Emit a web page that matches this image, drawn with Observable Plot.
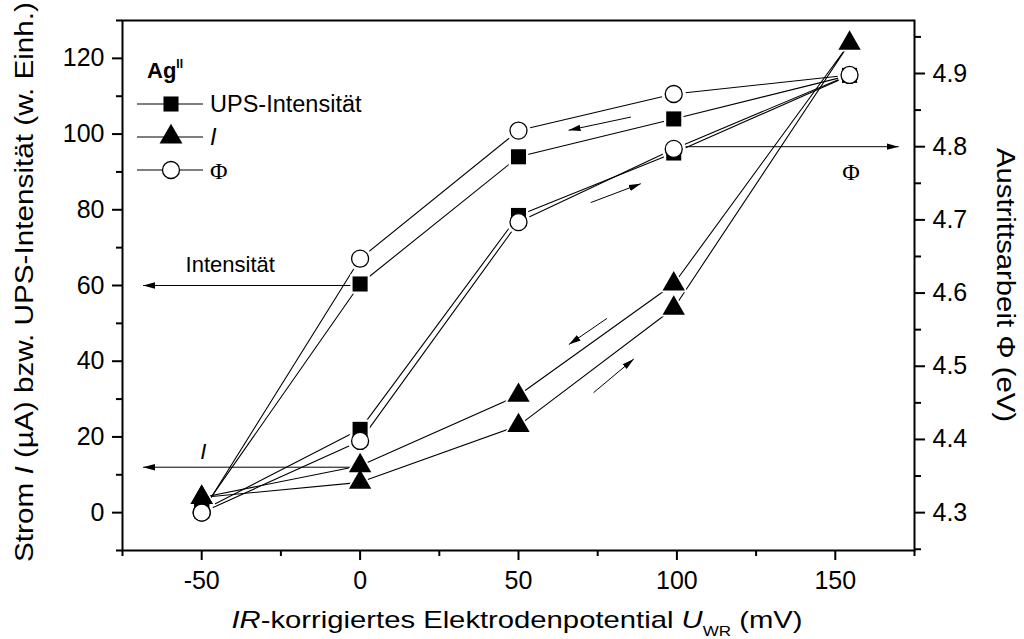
<!DOCTYPE html>
<html><head><meta charset="utf-8">
<script src="https://cdn.jsdelivr.net/npm/d3@7"></script>
<script src="https://cdn.jsdelivr.net/npm/@observablehq/plot@0.6"></script>
<style>
body{margin:0;background:#fff}
svg{font-family:"Liberation Sans",Arial,sans-serif}
</style>
</head><body><div id="chart"></div>
<script>
// ---- data (loop: forward sweep, then return sweep) ----
const potential    = [-50, 0, 50, 99, 154.5, 99, 50, 0, -50];
const upsIntensity = [0.5, 22, 78.5, 95, 115.5, 104, 94, 60.4, 0.5];
const current      = [4, 8, 23, 54, 124, 60.4, 31, 12.4, 4];
const workFunction = [4.30, 4.398, 4.697, 4.797, 4.898, 4.872, 4.822, 4.647, 4.30];

const xTicks = [-50, 0, 50, 100, 150];
const xMinor = [-75, -25, 25, 75, 125, 175];
const yTicks = [0, 20, 40, 60, 80, 100, 120];
const yMinor = [-10, 10, 30, 50, 70, 90, 110, 130];
const phiTicks = [4.3, 4.4, 4.5, 4.6, 4.7, 4.8, 4.9];
const phiMinor = [4.25, 4.35, 4.45, 4.55, 4.65, 4.75, 4.85, 4.95];

// annotation arrows (data units, left axis; phi: right axis)
const labelArrows = [
  {x1: -2, y1: 60, x2: -68.5, y2: 60},
  {x1: -2, y1: 12, x2: -68.5, y2: 12},
  {x1: 100, y1: 4.8, x2: 170, y2: 4.8, phi: true}
];
const dirArrows = [
  {x1: 85.5, y1: 104.5, x2: 65.8, y2: 101},
  {x1: 72.8, y1: 81.9, x2: 88.6, y2: 86.9},
  {x1: 77.9, y1: 51.3, x2: 65.9, y2: 44.4},
  {x1: 73.7, y1: 31.7, x2: 86.4, y2: 40.6}
];

// map Φ (right axis) onto left axis units
const phiToY = d3.scaleLinear().domain([4.3, 4.9]).range([0, 116]);

const upsRows = potential.map((x, i) => ({x, y: upsIntensity[i], s: "UPS"}));
const curRows = potential.map((x, i) => ({x, y: current[i], s: "I"}));
const phiRows = potential.map((x, i) => ({x, y: phiToY(workFunction[i]), s: "Phi"}));
const allRows = [...upsRows, ...curRows, ...phiRows];

const arrowsData = [...labelArrows.map(d => d.phi ? {...d, y1: phiToY(d.y1), y2: phiToY(d.y2)} : d), ...dirArrows];

const fs = 25;
const fmt = d => String(d).replace("\u2212", "-");
const plot = Plot.plot({
  width: 1024, height: 639,
  marginLeft: 122, marginRight: 110, marginTop: 20, marginBottom: 89,
  style: {background: "white", color: "black", fontFamily: "'Liberation Sans', Arial, sans-serif", fontSize: fs + "px"},
  x: {domain: [-75, 175]},
  y: {domain: [-10, 130]},
  marks: [
    Plot.axisX(xTicks, {tickSize: 10, tickPadding: 11, fontSize: fs, strokeWidth: 2, label: null, tickFormat: d => String(d)}),
    Plot.axisX(xMinor, {tickSize: 6, tickFormat: () => "", strokeWidth: 2, label: null}),
    Plot.axisY(yTicks, {anchor: "left", tickSize: 10, tickPadding: 8, fontSize: fs, strokeWidth: 2, label: null, tickFormat: d => String(d)}),
    Plot.axisY(yMinor, {anchor: "left", tickSize: 6, tickFormat: () => "", strokeWidth: 2, label: null}),
    Plot.axisY(phiTicks.map(phiToY), {anchor: "right", tickSize: 10, tickPadding: 8, fontSize: fs, strokeWidth: 2, label: null,
      tickFormat: d => phiToY.invert(d).toFixed(1)}),
    Plot.axisY(phiMinor.map(phiToY), {anchor: "right", tickSize: 6, tickFormat: () => "", strokeWidth: 2, label: null}),
    Plot.line(allRows, {x: "x", y: "y", z: "s", stroke: "black", strokeWidth: 1.1}),
    Plot.link(arrowsData, {x1: "x1", y1: "y1", x2: "x2", y2: "y2", stroke: "black", strokeWidth: 1}),
    // white halos so lines stop short of symbols
    Plot.dot(upsRows, {x: "x", y: "y", symbol: "square", r: 11, fill: "white"}),
    Plot.dot(curRows, {x: "x", y: "y", symbol: "triangle", r: 10.5, fill: "white"}),
    Plot.dot(phiRows, {x: "x", y: "y", r: 12, fill: "white"}),
    Plot.dot(upsRows, {x: "x", y: "y", symbol: "square", r: 8.5, fill: "black"}),
    Plot.dot(curRows, {x: "x", y: "y", symbol: "triangle", r: 8.3, fill: "black"}),
    Plot.dot(phiRows, {x: "x", y: "y", r: 8.5, fill: "white", stroke: "black", strokeWidth: 1.3}),
    Plot.text(["Intensität"], {x: -41, y: 65.5, fontSize: 22}),
    Plot.text(["I"], {x: -49.5, y: 16, fontSize: 22, fontStyle: "italic"}),
    Plot.text(["Φ"], {x: 155, y: 90, fontSize: 24, fontFamily: "'Liberation Serif', 'Times New Roman', serif"}),
    Plot.frame({stroke: "black", strokeWidth: 2})
  ]
});

const svg = d3.select(plot);

// filled arrowheads on annotation links
const defs = svg.append("defs");
defs.append("marker").attr("id", "ahead").attr("viewBox", "0 -5 12 10").attr("refX", 12).attr("refY", 0)
  .attr("markerUnits", "userSpaceOnUse").attr("markerWidth", 12).attr("markerHeight", 10).attr("orient", "auto")
  .append("path").attr("d", "M0,-3.2L12,0L0,3.2Z").attr("fill", "black");
svg.selectAll("g[aria-label='link'] path").attr("marker-end", "url(#ahead)");

// legend
const lg = svg.append("g").attr("fill", "black").attr("text-anchor", "start");
const ag = lg.append("text").attr("x", 147).attr("y", 78).attr("font-size", 22).attr("font-weight", "bold");
ag.append("tspan").text("Ag");
ag.append("tspan").attr("font-size", 12).attr("dy", -10).text("II");
const legendRows = [
  {y: 104, sym: "square", label: "UPS-Intensität"},
  {y: 137, sym: "triangle", label: "I", italic: true},
  {y: 170, sym: "circle", label: "Φ", serif: true}
];
legendRows.forEach(r => {
  lg.append("line").attr("x1", 137).attr("x2", 203).attr("y1", r.y).attr("y2", r.y).attr("stroke", "black").attr("stroke-width", 1.1);
  const sz = Math.PI * 8.5 * 8.5;
  if (r.sym === "circle") {
    lg.append("circle").attr("cx", 171).attr("cy", r.y).attr("r", 8.5).attr("fill", "white").attr("stroke", "black").attr("stroke-width", 1.3);
  } else {
    const s = r.sym === "square" ? d3.symbolSquare : d3.symbolTriangle;
    lg.append("path").attr("transform", `translate(171,${r.y})`).attr("d", d3.symbol(s, sz)());
  }
  const t = lg.append("text").attr("x", 210).attr("y", r.y).attr("dy", "0.36em").attr("font-size", 23.5).text(r.label);
  if (r.italic) t.attr("font-style", "italic");
  if (r.serif) t.attr("font-family", "'Liberation Serif','Times New Roman',serif").attr("font-size", 24);
});

// axis titles
const xt = svg.append("text").attr("x", 517).attr("y", 628).attr("text-anchor", "middle").attr("font-size", 24)
  .attr("textLength", 571).attr("lengthAdjust", "spacingAndGlyphs");
xt.append("tspan").attr("font-style", "italic").text("IR");
xt.append("tspan").text("-korrigiertes Elektrodenpotential ");
xt.append("tspan").attr("font-style", "italic").text("U");
xt.append("tspan").attr("font-size", 14).attr("dy", 8).text("WR");
xt.append("tspan").attr("dy", -8).text(" (mV)");

const yl = svg.append("text").attr("transform", "translate(33,282) rotate(-90)").attr("text-anchor", "middle").attr("font-size", 26)
  .attr("textLength", 560).attr("lengthAdjust", "spacingAndGlyphs");
yl.append("tspan").text("Strom ");
yl.append("tspan").attr("font-style", "italic").text("I");
yl.append("tspan").text(" (µA) bzw. UPS-Intensität (w. Einh.)");

const yr = svg.append("text").attr("transform", "translate(997,285) rotate(90)").attr("text-anchor", "middle").attr("font-size", 26)
  .attr("textLength", 274).attr("lengthAdjust", "spacingAndGlyphs");
yr.append("tspan").text("Austrittsarbeit ");
yr.append("tspan").text("Φ");
yr.append("tspan").text(" (eV)");

document.getElementById("chart").appendChild(plot);
</script>
</body></html>
